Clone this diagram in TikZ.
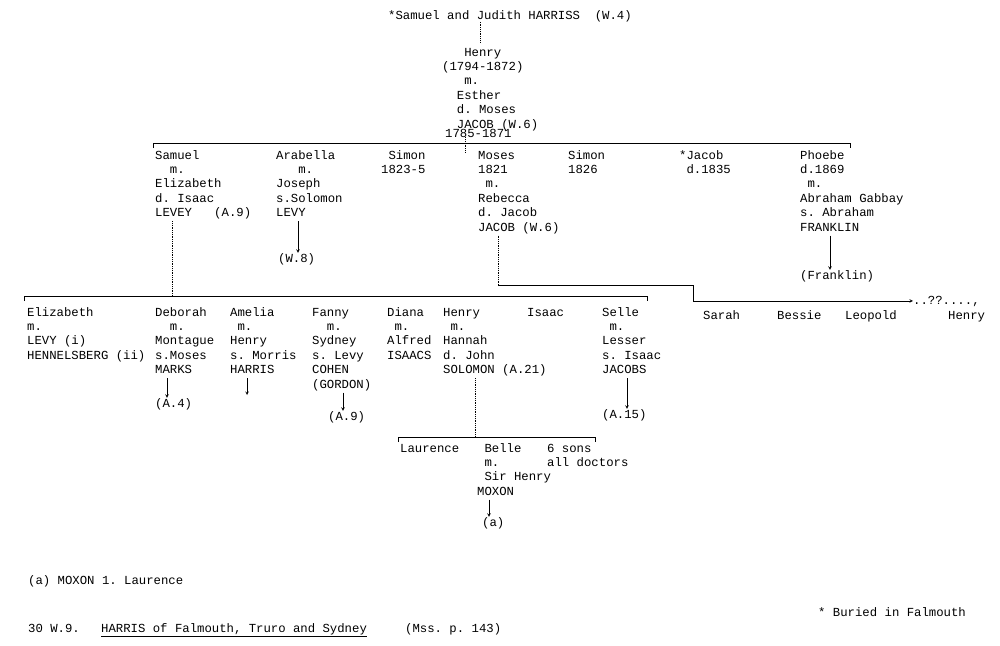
\documentclass[tikz,border=0pt]{standalone}
\usepackage{fontspec}
\setmainfont{Liberation Mono}
\usepackage{tikz}
\frenchspacing

% lines of one typed entry, hung from the baseline of the first line
\newcommand{\rows}[1]{\begin{tabular}[t]{@{}l@{}}#1\end{tabular}}

\begin{document}
\begin{tikzpicture}[
				x=1pt, y=-1pt,
				typed/.style={font=\fontsize{12.3}{14.4}\selectfont\frenchspacing, inner sep=0pt, anchor=base west},
				bar/.style={line width=1pt},
				drop/.style={densely dotted, line width=0.8pt},
				arr/.style={->, >=stealth, line width=0.6pt},
				]
				\useasboundingbox (0,0) rectangle (1000,645);
				%Nodes
				\node[typed](parents) at (388,19) {*Samuel and Judith HARRISS~~(W.4)};
				\node[typed](henry) at (442,56) {\rows{~~~Henry\\(1794-1872)\\~~~m.\\~~Esther\\~~d. Moses\\~~JACOB~(W.6)}};
				\node[typed](esther) at (445,137) {1785-1871};
				
				\node[typed](samuel) at (155,159) {\rows{Samuel\\~~m.\\Elizabeth\\d. Isaac\\LEVEY~~~(A.9)}};
				\node[typed](arabella) at (276,159) {\rows{Arabella\\~~~m.\\Joseph\\s.Solomon\\LEVY}};
				\node[typed](arabellaref) at (278,262) {(W.8)};
				\node[typed](simonA) at (381,159) {\rows{~Simon\\1823-5}};
				\node[typed](moses) at (478,159) {\rows{Moses\\1821\\~m.\\Rebecca\\d. Jacob\\JACOB (W.6)}};
				\node[typed](simonB) at (568,159) {\rows{Simon\\1826}};
				\node[typed](jacob) at (679,159) {\rows{*Jacob\\~d.1835}};
				\node[typed](phoebe) at (800,159) {\rows{Phoebe\\d.1869\\~m.\\Abraham Gabbay\\s. Abraham\\FRANKLIN}};
				\node[typed](franklin) at (800,279) {(Franklin)};
				
				\node[typed](sarah) at (703,319) {Sarah};
				\node[typed](bessie) at (777,319) {Bessie};
				\node[typed](leopold) at (845,319) {Leopold};
				\node[typed](henryM) at (948,319) {Henry};
				\node[typed](query) at (913,304) {..??....,};
				
				\node[typed](elizabeth) at (27,316) {\rows{Elizabeth\\m.\\LEVY (i)\\HENNELSBERG (ii)}};
				\node[typed](deborah) at (155,316) {\rows{Deborah\\~~m.\\Montague\\s.Moses\\MARKS}};
				\node[typed](deborahref) at (155,407) {(A.4)};
				\node[typed](amelia) at (230,316) {\rows{Amelia\\~m.\\Henry\\s. Morris\\HARRIS}};
				\node[typed](fanny) at (312,316) {\rows{Fanny\\~~m.\\Sydney\\s. Levy\\COHEN\\(GORDON)}};
				\node[typed](fannyref) at (328,420) {(A.9)};
				\node[typed](diana) at (387,316) {\rows{Diana\\~m.\\Alfred\\ISAACS}};
				\node[typed](henryS) at (443,316) {\rows{Henry\\~m.\\Hannah\\d. John\\SOLOMON (A.21)}};
				\node[typed](isaac) at (527,316) {Isaac};
				\node[typed](selle) at (602,316) {\rows{Selle\\~m.\\Lesser\\s. Isaac\\JACOBS}};
				\node[typed](selleref) at (602,418) {(A.15)};
				
				\node[typed](laurence) at (400,452) {Laurence};
				\node[typed](belle) at (477,452) {\rows{~Belle\\~m.\\~Sir Henry\\MOXON}};
				\node[typed](belleref) at (482,526) {(a)};
				\node[typed](sons) at (547,452) {\rows{6 sons\\all doctors}};
				
				\node[typed](note) at (28,584) {(a) MOXON 1. Laurence};
				\node[typed](series) at (28,632) {30 W.9.};
				\node[typed](title) at (101,632) {\underline{HARRIS of Falmouth, Truro and Sydney}};
				\node[typed](mss) at (405,632) {(Mss. p. 143)};
				\node[typed](buried) at (818,616) {* Buried in Falmouth};
				
				%Joints
				\coordinate (pj) at (480,0);
				\coordinate (hj) at (465,152);
				\coordinate (sj) at (172,296);
				\coordinate (mj) at (498,285);
				\coordinate (mc) at (693,285);
				\coordinate (hs) at (475,437);
				\coordinate (xarab) at (298,0);
				\coordinate (xphoebe) at (830,0);
				\coordinate (xdeborah) at (167,0);
				\coordinate (xfanny) at (343,0);
				\coordinate (xselle) at (627,0);
				\coordinate (xbelle) at (489,0);
				\coordinate (ameliaend) at (247,395);
				
				%Lines
				\draw[drop, shorten >=3pt] (parents.south -| pj) -- (henry.north -| pj);
				\draw[bar] (153,148) -- (153,143) -- (850,143) -- (850,148);
				\draw[drop] (esther.south -| hj) -- (hj);
				
				\draw[drop] (samuel.south -| sj) -- (sj);
				\draw[bar] (24,301) -- (24,296) -- (647,296) -- (647,301);
				\draw[drop] (moses.south -| mj) -- (mj);
				\draw[line width=0.6pt] (mj) -- (mc) -- (query.west -| mc);
				\draw[arr] (query.west -| mc) -- (query.west);
				
				\draw[drop] (henryS.south -| hs) -- (hs);
				\draw[bar] (398,442) -- (398,437) -- (595,437) -- (595,442);
				
				\draw[arr] (arabella.south -| xarab) -- (arabellaref.north -| xarab);
				\draw[arr] (phoebe.south -| xphoebe) -- (franklin.north -| xphoebe);
				\draw[arr] (deborah.south -| xdeborah) -- (deborahref.north -| xdeborah);
				\draw[arr] (amelia.south -| ameliaend) -- (ameliaend);
				\draw[arr] (fanny.south -| xfanny) -- (fannyref.north -| xfanny);
				\draw[arr] (selle.south -| xselle) -- (selleref.north -| xselle);
				\draw[arr] (belle.south -| xbelle) -- (belleref.north -| xbelle);
				
			\end{tikzpicture}
\end{document}
